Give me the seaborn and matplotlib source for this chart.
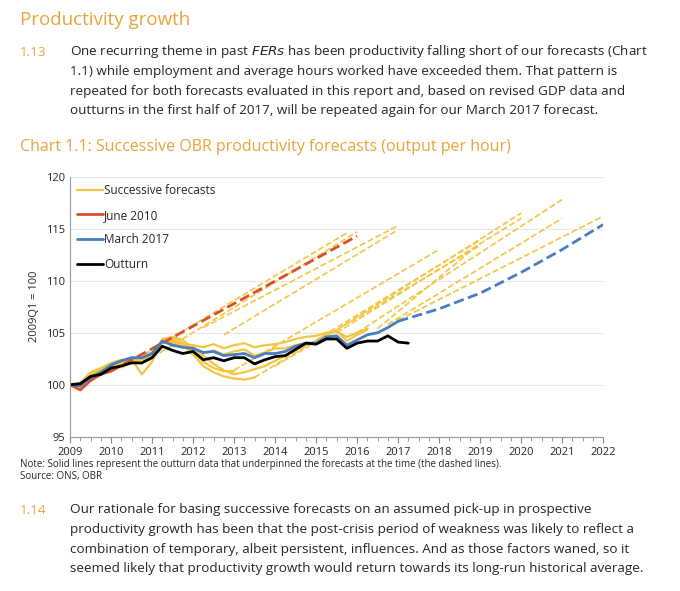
import numpy as np
import pandas as pd
from matplotlib import pyplot as plt
import seaborn as sns

sns.set_style("white")
plt.rcParams['font.family'] = ['Open Sans', 'DejaVu Sans']

# Quarterly outturn (2009Q1 = 100)
outturn = [100.0, 100.1, 100.8, 101.0, 101.6, 101.8, 102.1, 102.1, 102.6, 103.7, 103.3, 103.0,
           103.2, 102.4, 102.6, 102.3, 102.6, 102.6, 102.0, 102.4, 102.7, 102.8, 103.4, 104.0,
           103.9, 104.4, 104.4, 103.5, 104.0, 104.2, 104.2, 104.7, 104.1, 104.0]

# March 2017 vintage and forecast
march2017 = [100.0, 99.9, 100.7, 101.2, 101.9, 102.3, 102.6, 102.6, 103.0, 104.2, 103.8, 103.6,
             103.5, 103.1, 103.2, 102.8, 102.9, 103.0, 102.6, 103.0, 103.0, 103.2, 103.7, 104.0,
             104.0, 104.6, 104.7, 103.8, 104.3, 104.8, 105.0, 105.5, 106.1]
march2017_fc_years = [2017.0, 2018.0, 2019.0, 2020.0, 2021.0, 2022.0]
march2017_fc = [106.1, 107.3, 108.8, 110.8, 113.0, 115.4]

# June 2010 vintage and forecast
june2010 = [100.0, 99.5, 100.4, 101.0, 101.3]
june2010_fc_years = [2010.0, 2016.0]
june2010_fc = [101.3, 114.3]

# Other successive vintages (solid)
vintages = [
    [100.0, 99.8, 100.8, 101.2, 101.6, 101.9, 102.3, 102.4, 102.8, 104.0, 104.3, 103.8,
     102.9, 101.8, 101.2, 100.8, 100.6, 100.5, 100.7],
    [100.0, 99.9, 101.0, 101.5, 101.8, 102.0, 102.4, 102.0, 102.9, 104.2, 104.5, 104.0,
     103.2, 102.2, 101.6, 101.3, 101.3],
    [100.0, 100.1, 100.9, 101.3, 101.8, 102.1, 102.5, 102.5, 102.9, 104.2, 104.0, 103.6,
     103.6, 103.0, 103.3, 102.9, 103.2, 103.4, 102.8, 103.1, 103.5, 103.5, 103.8, 104.0],
    [100.0, 100.2, 101.2, 101.6, 102.1, 102.4, 102.5, 101.0, 102.2, 104.4, 104.6, 104.3,
     103.5, 102.8, 102.0, 101.4, 101.0, 101.2, 101.5, 101.8, 102.3, 102.8, 103.3, 103.8,
     104.2, 104.9, 105.2, 104.2, 104.8, 105.3],
    [100.0, 100.0, 100.6, 101.1, 101.5, 101.9, 102.3, 102.6, 103.1, 104.3, 104.1, 103.9,
     103.8, 103.6, 103.9, 103.5, 103.8, 104.0, 103.6, 103.8, 103.9, 104.1, 104.4, 104.6,
     104.7, 105.0, 105.1, 104.6, 105.0, 105.4],
]

# Other successive forecasts (dashed): start year, start value, end year, end value
fc_start_years = [2010.25, 2011.0, 2012.25, 2012.75, 2013.0, 2013.5, 2014.0, 2015.0, 2015.5, 2016.0, 2016.5, 2016.75, 2017.0]
fc_start_vals = [101.6, 102.6, 105.5, 104.8, 101.4, 100.7, 101.8, 104.0, 105.0, 105.0, 105.4, 105.8, 106.2]
fc_end_years = [2015.75, 2016.0, 2017.0, 2017.0, 2018.0, 2019.0, 2019.0, 2020.0, 2020.0, 2021.0, 2019.0, 2021.0, 2022.0]
fc_end_vals = [114.6, 114.7, 115.3, 114.9, 113.0, 113.9, 113.4, 116.5, 116.0, 117.8, 113.6, 116.0, 116.2]

yellow = '#F4C542'
red = '#D9502B'
blue = '#4A7CC0'
orange = '#E9A43A'

fig = plt.figure(figsize=(6.8, 5.91), dpi=100)
ax = fig.add_axes([0.103, 0.261, 0.784, 0.44])

for i in range(len(fc_start_years)):
    sns.lineplot(x=[fc_start_years[i], fc_end_years[i]], y=[fc_start_vals[i], fc_end_vals[i]],
                 ax=ax, color=yellow, linestyle='--', linewidth=1.2)
for i, v in enumerate(vintages):
    q = 2009 + np.arange(len(v)) / 4
    sns.lineplot(x=q, y=v, ax=ax, color=yellow, linewidth=1.6,
                 label='Successive forecasts' if i == 0 else None)

sns.lineplot(x=june2010_fc_years, y=june2010_fc, ax=ax, color=red, linestyle='--', linewidth=2)
sns.lineplot(x=2009 + np.arange(len(june2010)) / 4, y=june2010, ax=ax, color=red, linewidth=2, label='June 2010')
sns.lineplot(x=march2017_fc_years, y=march2017_fc, ax=ax, color=blue, linestyle='--', linewidth=2)
sns.lineplot(x=2009 + np.arange(len(march2017)) / 4, y=march2017, ax=ax, color=blue, linewidth=2, label='March 2017')
sns.lineplot(x=2009 + np.arange(len(outturn)) / 4, y=outturn, ax=ax, color='black', linewidth=2, label='Outturn')

ax.set_xlim(2009, 2022)
ax.set_ylim(95, 120)
ax.set_xticks(range(2009, 2023))
ax.set_xticks(np.arange(2009, 2022.01, 0.25), minor=True)
ax.tick_params(axis='x', which='both', bottom=True, direction='out', length=4, color='#888888', labelsize=8)
ax.tick_params(axis='x', which='minor', length=3)
ax.tick_params(axis='y', labelsize=8, length=0)
ax.yaxis.grid(True, color='#e6e6e6', linewidth=0.8)
for s in ['top', 'right']:
    ax.spines[s].set_visible(False)
ax.spines['left'].set_color('#999999')
ax.spines['bottom'].set_color('#999999')
ax.set_xlabel('')
ax.set_ylabel('2009Q1 = 100', fontsize=8)
ax.legend(loc='upper left', frameon=False, fontsize=8.5, handlelength=2.2, handletextpad=0.1,
          labelspacing=1.0, borderaxespad=0.2)

# Surrounding text
fig.text(20 / 680, 1 - 20 / 591, 'Productivity growth', fontsize=13.5, color=orange, va='center')
para1 = ["One recurring theme in past $\\it{FERs}$ has been productivity falling short of our forecasts (Chart",
         "1.1) while employment and average hours worked have exceeded them. That pattern is",
         "repeated for both forecasts evaluated in this report and, based on revised GDP data and",
         "outturns in the first half of 2017, will be repeated again for our March 2017 forecast."]
fig.text(20 / 680, 1 - 52 / 591, '1.13', fontsize=9.7, color=orange, va='center')
for k, line in enumerate(para1):
    fig.text(70 / 680, 1 - (52 + 19.5 * k) / 591, line, fontsize=9.7, va='center')
fig.text(20 / 680, 1 - 147 / 591, 'Chart 1.1: Successive OBR productivity forecasts (output per hour)',
         fontsize=11.5, color=orange, va='center')
fig.text(20 / 680, 1 - 465 / 591, 'Note: Solid lines represent the outturn data that underpinned the forecasts at the time (the dashed lines).',
         fontsize=7, va='center')
fig.text(20 / 680, 1 - 477 / 591, 'Source: ONS, OBR', fontsize=7, va='center')
para2 = ["Our rationale for basing successive forecasts on an assumed pick-up in prospective",
         "productivity growth has been that the post-crisis period of weakness was likely to reflect a",
         "combination of temporary, albeit persistent, influences. And as those factors waned, so it",
         "seemed likely that productivity growth would return towards its long-run historical average."]
fig.text(20 / 680, 1 - 510 / 591, '1.14', fontsize=9.7, color=orange, va='center')
for k, line in enumerate(para2):
    fig.text(70 / 680, 1 - (510 + 19.5 * k) / 591, line, fontsize=9.7, va='center')

plt.savefig('out.png', dpi=100)
